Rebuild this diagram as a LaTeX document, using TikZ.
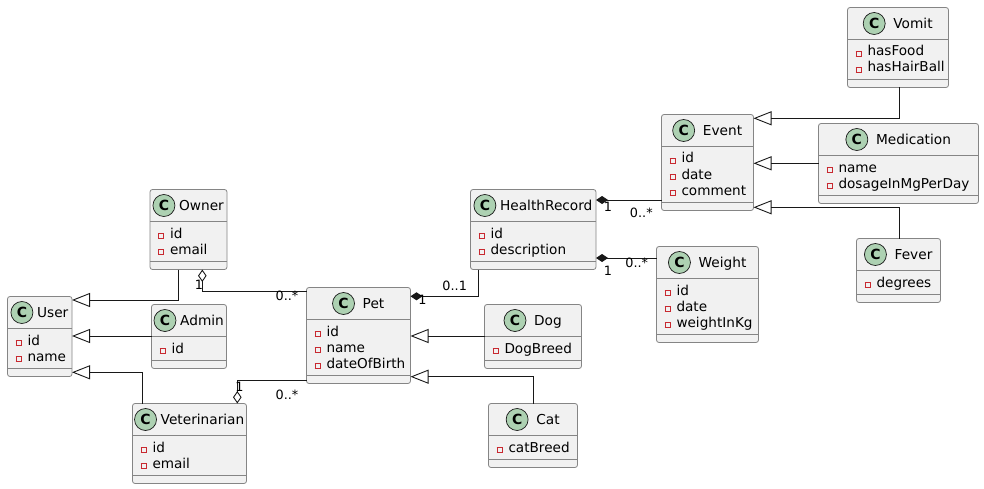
\documentclass[tikz,border=0pt]{standalone}
\usepackage{fontspec}
\setmainfont{DejaVu Sans}
\usetikzlibrary{arrows.meta}
\definecolor{boxfill}{HTML}{F1F1F1}
\definecolor{boxline}{HTML}{858585}
\definecolor{iconfill}{HTML}{ADD1B2}
\definecolor{visred}{HTML}{C82930}
\definecolor{ink}{HTML}{181818}
\newcommand\vissq{\textcolor{visred}{\setlength\fboxsep{0pt}\setlength\fboxrule{0.8pt}\fbox{\rule{0pt}{4.2pt}\rule{4.2pt}{0pt}}}}
\newcommand\umlclass[8]{%
  \node[classbox, minimum width={#4-#2}, minimum height={#5-#3}, anchor=north west] (#1) at (#2,#3) {};
  \draw[sepline] ([yshift=-32pt]#1.north west) -- ([yshift=-32pt]#1.north east);
  \draw[sepline] ([yshift=8pt]#1.south west) -- ([yshift=8pt]#1.south east);
  \node[titletext, anchor=base] (#1-t) at ([xshift={(22+#7)/2}, yshift=-21.3pt]#1.north) {#6};
  \node[icon] (#1-c) at ([xshift={-#7-11}, yshift=5.3pt]#1-t.base west) {C};
  \foreach \aname [count=\i] in {#8} {
    \node[attrtext, anchor=base west] (#1-a\i) at ([xshift=8pt, yshift={-48.5-16*(\i-1)}]#1.north west) {\vissq\hspace{6pt}\aname};
  }
}
\tikzset{
  classbox/.style={draw=boxline, fill=boxfill, rounded corners=2.5pt, line width=0.8pt, inner sep=0pt, outer sep=0pt},
  sepline/.style={draw=boxline, line width=0.8pt},
  titletext/.style={inner sep=0pt, text=black, font=\fontsize{13.7pt}{16pt}\selectfont},
  attrtext/.style={inner sep=0pt, text=black, font=\fontsize{13.6pt}{16pt}\selectfont},
  icon/.style={circle, minimum size=22pt, inner sep=0pt, fill=iconfill, draw=ink, line width=0.7pt, font=\fontsize{14pt}{16pt}\selectfont\bfseries},
  mult/.style={inner sep=0pt, text=black, font=\fontsize{12.8pt}{15pt}\selectfont},
  inh/.style={draw=ink, line width=0.9pt, -{Triangle[open, length=18pt, width=14pt, line width=0.9pt]}},
  agg/.style={draw=ink, line width=0.9pt, -{Diamond[open, length=12.5pt, width=8.5pt, line width=0.9pt]}},
  comp/.style={draw=ink, line width=0.9pt, -{Diamond[length=12pt, width=8pt]}}
}
\begin{document}
\begin{tikzpicture}[x=1pt, y=-1pt]
\useasboundingbox (0,0) rectangle (984,489);
\fill[white] (0,0) rectangle (984,489);
\umlclass{user}{7.5}{296.5}{72}{376.5}{User}{4}{id,name}
\umlclass{owner}{150}{189.5}{227}{269.5}{Owner}{4}{id,email}
\umlclass{admin}{151.5}{304.5}{226.5}{368.5}{Admin}{4}{id}
\umlclass{vet}{132.5}{403.5}{246.5}{483.5}{Veterinarian}{4}{id,email}
\umlclass{pet}{306.5}{287.5}{410.5}{383.5}{Pet}{8}{id,name,dateOfBirth}
\umlclass{hr}{470.5}{189.5}{596}{269.5}{HealthRecord}{4}{id,description}
\umlclass{dog}{484.5}{304.5}{581.5}{368.5}{Dog}{8}{DogBreed}
\umlclass{cat}{488.5}{403.5}{577.5}{467.5}{Cat}{8}{catBreed}
\umlclass{event}{661.5}{114.5}{753.5}{210.5}{Event}{8}{id,date,comment}
\umlclass{weight}{656.5}{246.5}{758.5}{342.5}{Weight}{8}{id,date,weightInKg}
\umlclass{vomit}{847.5}{7.5}{948.5}{87.5}{Vomit}{8}{hasFood,hasHairBall}
\umlclass{med}{818.5}{123.5}{978.5}{203.5}{Medication}{8}{name,dosageInMgPerDay}
\umlclass{fever}{856.5}{238.5}{940.5}{302.5}{Fever}{8}{degrees}
% connectors
\draw[inh] ([xshift=28pt]owner.south west) |- ([yshift=-3.5pt]user.north east);
\draw[inh] ([yshift=-31.5pt]admin.north west) -- ([yshift=-39.5pt]user.north east);
\draw[inh] ([xshift=9.8pt]vet.north west) |- ([yshift=4.2pt]user.south east);
\draw[agg] ([yshift=-3.5pt]pet.north west) -| ([xshift=52.3pt]owner.south west);
\draw[agg] ([yshift=3.2pt]pet.south west) -| ([xshift=104.8pt]vet.north west);
\draw[comp] ([xshift=8.2pt]hr.south west) |- ([yshift=-8.8pt]pet.north east);
\draw[inh] ([yshift=-31.5pt]dog.north west) -- ([yshift=-48.5pt]pet.north east);
\draw[inh] (cat.north) |- ([yshift=6.8pt]pet.south east);
\draw[comp] ([yshift=-85.5pt]event.north west) -- ([yshift=-10.5pt]hr.north east);
\draw[comp] ([yshift=-11.5pt]weight.north west) -- ([yshift=-68.5pt]hr.north east);
\draw[inh] ([xshift=1pt]vomit.south) |- ([yshift=-3.8pt]event.north east);
\draw[inh] ([yshift=-39.8pt]med.north west) -- ([yshift=-48.8pt]event.north east);
\draw[inh] ([xshift=0.8pt]fever.north) |- ([yshift=3.2pt]event.south east);
% multiplicities
\node[mult] (m1) at (199,284.5) {1};
\node[mult] (m2) at (287,296) {0..*};
\node[mult] (m3) at (239.5,386.5) {1};
\node[mult] (m4) at (287,394.5) {0..*};
\node[mult] (m5) at (422.5,300) {1};
\node[mult] (m6) at (454.7,286) {0..1};
\node[mult] (m7) at (608,207) {1};
\node[mult] (m8) at (641.3,213) {0..*};
\node[mult] (m9) at (608,270.5) {1};
\node[mult] (m10) at (636.7,262.5) {0..*};
\end{tikzpicture}
\end{document}
